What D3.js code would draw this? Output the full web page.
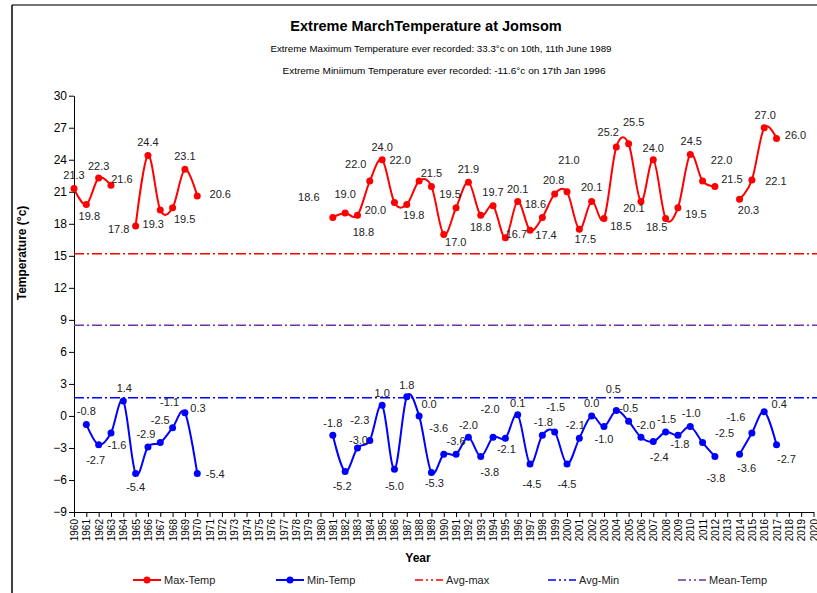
<!DOCTYPE html>
<html>
<head>
<meta charset="utf-8">
<script src="https://cdn.jsdelivr.net/npm/d3@7"></script>
<style>
  body { margin: 0; background: #fff; }
  svg { display: block; font-family: "Liberation Sans", Arial, sans-serif; }
</style>
</head>
<body>
<svg width="817" height="593"></svg>
<script>
const width = 817;
const height = 593;

// data, one value per year 1960..2017 (null = not recorded)
const years = d3.range(1960, 2018);
const tickYears = d3.range(1960, 2021);

const maxTemp = [
  21.3, 19.8, 22.3, 21.6, null, 17.8, 24.4, 19.3, 19.5, 23.1,
  20.6, null, null, null, null, null, null, null, null, null,
  null, 18.6, 19.0, 18.8, 22.0, 24.0, 20.0, 19.8, 22.0, 21.5,
  17.0, 19.5, 21.9, 18.8, 19.7, 16.7, 20.1, 17.4, 18.6, 20.8,
  21.0, 17.5, 20.1, 18.5, 25.2, 25.5, 20.1, 24.0, 18.5, 19.5,
  24.5, 22.0, 21.5, null, 20.3, 22.1, 27.0, 26.0
];

const minTemp = [
  null, -0.8, -2.7, -1.6, 1.4, -5.4, -2.9, -2.5, -1.1, 0.3,
  -5.4, null, null, null, null, null, null, null, null, null,
  null, -1.8, -5.2, -3.0, -2.3, 1.0, -5.0, 1.8, 0.0, -5.3,
  -3.6, -3.6, -2.0, -3.8, -2.0, -2.1, 0.1, -4.5, -1.8, -1.5,
  -4.5, -2.1, 0.0, -1.0, 0.5, -0.5, -2.0, -2.4, -1.5, -1.8,
  -1.0, -2.5, -3.8, null, -3.6, -1.6, 0.4, -2.7
];

const avgMax = 15.2;
const avgMin = 1.7;
const meanTemp = 8.5;

// label nudges (px) as placed in the original chart
const maxLabelShift = [
  [0,-13],[3,12],[0,-12],[11,-6],null,[-17,3],[0,-13],[-7,14],[12,11],[0,-13],
  [23,-2],null,null,null,null,null,null,null,null,null,
  null,[-24,-20],[0,-19],[6,17],[-14,-17],[0,-13],[-19,8],[7,11],[-19,-21],[0,-13],
  [12,8],[-6,-14],[0,-13],[0,12],[0,-13],[11,-4],[0,-12],[16,5],[-7,-13],[-1,-14],
  [2,-32],[6,10],[0,-14],[17,8],[-8,-15],[5,-22],[-7,7],[0,-12],[-9,9],[18,6],
  [1,-13],[19,-21],[17,-7],null,[9,11],[24,1],[1,-13],[19,-3]
];
const minLabelShift = [
  null,[0,-13],[-3,15],[6,12],[1,-13],[0,14],[-2,-13],[0,-22],[-3,-26],[13,-5],
  [18,1],null,null,null,null,null,null,null,null,null,
  null,[0,-12],[-3,15],[1,-8],[-10,-20],[0,-12],[0,17],[0,-12],[10,-12],[3,11],
  [-5,-26],[0,-13],[0,-12],[9,16],[-3,-28],[1,11],[0,-12],[2,20],[1,-13],[1,-25],
  [0,20],[-4,-13],[0,-13],[0,13],[-3,-21],[0,-13],[5,-12],[6,16],[1,-13],[2,9],
  [1,-13],[22,-9],[1,22],null,[7,14],[-16,-16],[15,-8],[10,14]
];

const svg = d3.select('svg');

// chart frame
svg.append('line').attr('x1', 12).attr('x2', width).attr('y1', 5).attr('y2', 5)
  .attr('stroke', '#444').attr('stroke-width', 1.5);
svg.append('line').attr('x1', 12).attr('x2', 12).attr('y1', 5).attr('y2', height)
  .attr('stroke', '#000').attr('stroke-width', 1.5);

// titles
svg.append('text').text('Extreme MarchTemperature at Jomsom')
  .attr('x', 426).attr('y', 31).attr('text-anchor', 'middle')
  .style('font-size', '14.5px').style('font-weight', 'bold');
svg.append('text').text('Extreme Maximum Temperature ever recorded: 33.3°c on 10th, 11th June 1989')
  .attr('x', 441).attr('y', 52).attr('text-anchor', 'middle')
  .attr('textLength', 341).attr('lengthAdjust', 'spacingAndGlyphs')
  .style('font-size', '9.5px');
svg.append('text').text('Extreme Miniimum Temperature ever recorded:  -11.6°c on    17th Jan 1996')
  .attr('x', 444).attr('y', 74).attr('text-anchor', 'middle')
  .attr('textLength', 323).attr('lengthAdjust', 'spacingAndGlyphs')
  .style('font-size', '9.5px');

// scales
const x = d3.scaleLinear().domain([1960, 2020]).range([74, 813.5]);
const y = d3.scaleLinear().domain([-9, 30]).range([512, 95.7]);

// Y - Axis
const yAxis = svg.append('g')
  .attr('transform', 'translate(74,0)')
  .call(d3.axisLeft(y).tickValues(d3.range(-9, 31, 3)).tickSize(5).tickSizeOuter(0));
yAxis.selectAll('text').style('font-size', '12px').attr('fill', '#000').attr('x', -7);

svg.append('text').text('Temperature (°c)')
  .attr('transform', 'translate(22,253) rotate(-90)')
  .attr('text-anchor', 'middle').attr('dy', '0.35em')
  .style('font-size', '12px').style('font-weight', 'bold');

// X - Axis
const xAxis = svg.append('g')
  .attr('transform', 'translate(0,512)')
  .call(d3.axisBottom(x).tickValues(tickYears).tickFormat(d3.format('d')).tickSize(5).tickSizeOuter(0));
xAxis.selectAll('text')
  .attr('transform', 'rotate(-90)')
  .attr('text-anchor', 'end')
  .attr('x', -7).attr('y', 0).attr('dy', '0.35em')
  .attr('fill', '#000')
  .style('font-size', '10px');
svg.selectAll('.domain').attr('stroke', '#000');

svg.append('text').text('Year')
  .attr('x', 418).attr('y', 562).attr('text-anchor', 'middle')
  .style('font-size', '12px').style('font-weight', 'bold');

// reference lines
const dash = '10,3,2,3';
const refLines = [
  { value: avgMax, color: '#ff0000' },
  { value: avgMin, color: '#0000ff' },
  { value: meanTemp, color: '#7030a0' }
];
svg.selectAll('.ref')
  .data(refLines)
  .enter()
  .append('line')
    .attr('x1', 74).attr('x2', width)
    .attr('y1', d => y(d.value)).attr('y2', d => y(d.value))
    .attr('stroke', d => d.color).attr('stroke-width', 1.5)
    .attr('stroke-dasharray', dash);

// series
function drawSeries(values, shifts, color) {
  const pts = years.map((yr, i) => ({ year: yr, value: values[i], shift: shifts[i] }));
  const line = d3.line()
    .defined(d => d.value !== null)
    .x(d => x(d.year))
    .y(d => y(d.value))
    .curve(d3.curveCatmullRom.alpha(0));

  svg.append('path')
    .datum(pts)
    .attr('d', line)
    .attr('fill', 'none')
    .attr('stroke', color)
    .attr('stroke-width', 2);

  const valid = pts.filter(d => d.value !== null);

  svg.append('g').selectAll('circle')
    .data(valid)
    .enter()
    .append('circle')
      .attr('cx', d => x(d.year))
      .attr('cy', d => y(d.value))
      .attr('r', 3.5)
      .attr('fill', color);

  svg.append('g').selectAll('text')
    .data(valid)
    .enter()
    .append('text')
      .text(d => d.value.toFixed(1))
      .attr('x', d => x(d.year) + d.shift[0])
      .attr('y', d => y(d.value) + d.shift[1])
      .attr('text-anchor', 'middle')
      .attr('dy', '0.35em')
      .style('font-size', '11px')
      .attr('fill', '#222');
}

drawSeries(maxTemp, maxLabelShift, '#ff0000');
drawSeries(minTemp, minLabelShift, '#0000ff');

// legend
const legendItems = [
  { name: 'Max-Temp', color: '#ff0000', x: 133, marker: true },
  { name: 'Min-Temp', color: '#0000ff', x: 276, marker: true },
  { name: 'Avg-max', color: '#ff0000', x: 415, marker: false },
  { name: 'Avg-Min', color: '#0000ff', x: 548, marker: false },
  { name: 'Mean-Temp', color: '#7030a0', x: 678, marker: false }
];
const legend = svg.append('g').attr('transform', 'translate(0,580)');
const item = legend.selectAll('g')
  .data(legendItems)
  .enter()
  .append('g')
    .attr('transform', d => 'translate(' + d.x + ',0)');
item.append('line')
  .attr('x1', 0).attr('x2', 28).attr('y1', 0).attr('y2', 0)
  .attr('stroke', d => d.color)
  .attr('stroke-width', d => d.marker ? 2 : 1.5)
  .attr('stroke-dasharray', d => d.marker ? null : '8,3,2,3,2,3');
item.filter(d => d.marker).append('circle')
  .attr('cx', 14).attr('cy', 0).attr('r', 3.5)
  .attr('fill', d => d.color);
item.append('text')
  .text(d => d.name)
  .attr('x', 31).attr('dy', '0.35em')
  .style('font-size', '11px')
  .attr('fill', '#222');
</script>
</body>
</html>
